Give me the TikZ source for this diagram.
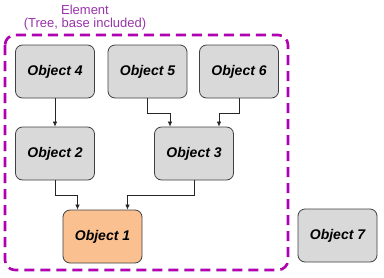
\documentclass[tikz,border=0pt]{standalone}
\usepackage{fontspec}
\setmainfont{Liberation Sans}
\usetikzlibrary{arrows.meta}
\definecolor{framemag}{HTML}{B000B0}
\definecolor{labelpur}{HTML}{9933AA}
\definecolor{boxgray}{HTML}{D9D9D9}
\definecolor{rootorange}{HTML}{FAC090}
\begin{document}
\begin{tikzpicture}[
  x=1pt, y=-1pt,
  objnode/.style={draw=black!75, fill=boxgray, rounded corners=7pt,
    line width=0.8pt, minimum width=79pt, minimum height=53pt,
    font=\fontsize{14}{16}\selectfont\bfseries\itshape},
  rootnode/.style={objnode, fill=rootorange},
  link/.style={line width=0.7pt, black!85, -{Latex[length=5pt,width=4.5pt]}},
  elemframe/.style={draw=framemag, line width=2.6pt, rounded corners=10pt,
    dash pattern=on 10pt off 6pt},
]
\useasboundingbox (0,0) rectangle (384,277);
% Element frame and its caption
\draw[elemframe] (5,35) rectangle (288,270);
\node[labelpur, font=\fontsize{13}{15}\selectfont] (elt) at (85,10) {Element};
\node[labelpur, font=\fontsize{13}{15}\selectfont] (eltsub) at (85,24) {(Tree, base included)};

% Tree objects
\node[objnode] (obj4) at (55,71.5)    {Object 4};
\node[objnode] (obj5) at (147.5,71.5) {Object 5};
\node[objnode] (obj6) at (239,71.5)   {Object 6};
\node[objnode] (obj2) at (55,153.5)   {Object 2};
\node[objnode] (obj3) at (194,153.5)  {Object 3};
\node[rootnode] (obj1) at (102.5,236.5) {Object 1};
% Object outside the element
\node[objnode] (obj7) at (337.5,235.5) {Object 7};

% Links towards the base
\draw[link] (obj4) -- (obj2);
\draw[link] (obj5.south) -- ++(0,15) -| ([xshift=-24pt]obj3.north);
\draw[link] (obj6.south) -- ++(0,15) -| ([xshift=25pt]obj3.north);
\draw[link] (obj2.south) -- ++(0,15) -| ([xshift=-25pt]obj1.north);
\draw[link] (obj3.south) -- ++(0,15) -| ([xshift=25pt]obj1.north);
\end{tikzpicture}
\end{document}
